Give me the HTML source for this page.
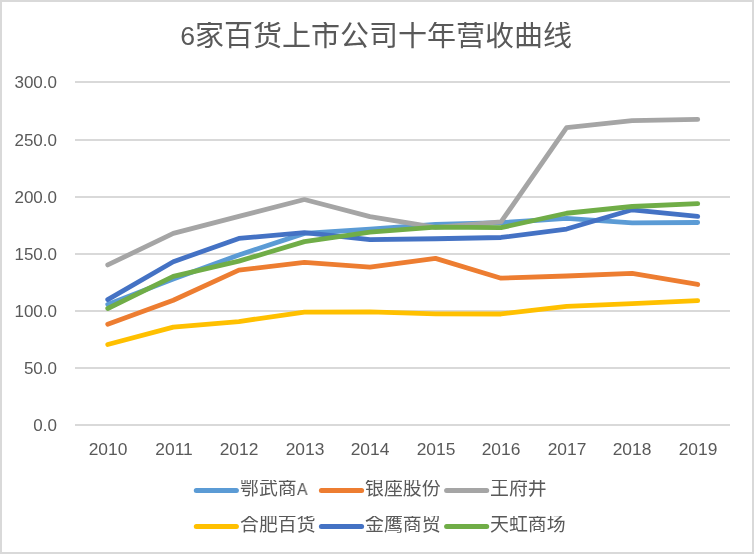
<!DOCTYPE html>
<html lang="zh"><head><meta charset="utf-8"><title>6家百货上市公司十年营收曲线</title>
<style>
html,body{margin:0;padding:0;background:#fff}
body{width:754px;height:554px;overflow:hidden;font-family:"Liberation Sans",sans-serif;color:#595959}
#chart{position:relative;width:754px;height:554px;box-sizing:border-box;border:2px solid #D9D9D9;background:#fff;overflow:hidden}
#chart svg{position:absolute;left:-2px;top:-2px;width:754px;height:554px}
.t{will-change:transform;position:absolute;white-space:nowrap;line-height:1;margin:-2px 0 0 -2px}
.yl{font-size:17px;width:60px;text-align:right;left:-3px}
.xl{font-size:17.4px;width:60px;text-align:center}
.cj{color:#595959;font-family:"Liberation Sans","Noto Sans CJK SC",sans-serif}
</style></head><body>
<div id="chart">
<svg width="754" height="554" viewBox="0 0 754 554">

<g fill="#D9D9D9">
<rect x="75" y="81" width="655" height="2"/>
<rect x="75" y="139" width="655" height="2"/>
<rect x="75" y="196" width="655" height="2"/>
<rect x="75" y="253" width="655" height="2"/>
<rect x="75" y="310" width="655" height="2"/>
<rect x="75" y="367" width="655" height="2"/>
<rect x="75" y="424" width="655" height="2"/>
</g>
<g fill="none" stroke-width="4.8" stroke-linecap="round" stroke-linejoin="round">
<polyline stroke="#5B9BD5" points="107.75,304.38 173.30,279.11 238.85,254.99 304.40,233.38 369.95,229.26 435.50,224.46 501.05,222.74 566.60,218.29 632.15,222.97 697.70,222.52"/>
<polyline stroke="#ED7D31" points="107.75,324.16 173.30,300.26 238.85,270.19 304.40,262.42 369.95,267.22 435.50,258.42 501.05,278.20 566.60,276.02 632.15,273.39 697.70,284.48"/>
<polyline stroke="#A5A5A5" points="107.75,264.93 173.30,233.38 238.85,216.34 304.40,199.53 369.95,216.57 435.50,227.32 501.05,221.94 566.60,127.73 632.15,120.53 697.70,119.39"/>
<polyline stroke="#FFC000" points="107.75,344.51 173.30,327.13 238.85,321.53 304.40,312.04 369.95,311.81 435.50,313.87 501.05,313.98 566.60,306.32 632.15,303.58 697.70,300.72"/>
<polyline stroke="#4472C4" points="107.75,299.58 173.30,261.73 238.85,238.41 304.40,232.58 369.95,239.55 435.50,238.75 501.05,237.49 566.60,229.03 632.15,209.82 697.70,216.46"/>
<polyline stroke="#70AD47" points="107.75,308.49 173.30,276.37 238.85,261.16 304.40,241.61 369.95,232.12 435.50,227.09 501.05,227.66 566.60,213.25 632.15,206.51 697.70,203.65"/>
</g>
<g fill="none" stroke-width="5.0" stroke-linecap="round">
<line stroke="#5B9BD5" x1="196.3" y1="490.5" x2="236.4" y2="490.5"/>
<line stroke="#ED7D31" x1="321.4" y1="490.5" x2="361.6" y2="490.5"/>
<line stroke="#A5A5A5" x1="446.6" y1="490.5" x2="486.7" y2="490.5"/>
<line stroke="#FFC000" x1="196.3" y1="526.5" x2="236.4" y2="526.5"/>
<line stroke="#4472C4" x1="321.4" y1="526.5" x2="361.6" y2="526.5"/>
<line stroke="#70AD47" x1="446.6" y1="526.5" x2="486.7" y2="526.5"/>
</g>
</svg>
<div class="t" style="left:180.5px;top:24px;font-size:25.4px;transform-origin:100% 0;transform:scaleX(1.05)">6</div>
<div class="t cj" style="left:195.2px;top:21.5px;font-size:29.0px;width:377.0px;overflow:hidden">家百货上市公司十年营收曲线</div>
<div class="t yl" style="top:74.1px">300.0</div>
<div class="t yl" style="top:132.1px">250.0</div>
<div class="t yl" style="top:189.1px">200.0</div>
<div class="t yl" style="top:246.1px">150.0</div>
<div class="t yl" style="top:303.1px">100.0</div>
<div class="t yl" style="top:360.1px">50.0</div>
<div class="t yl" style="top:417.1px">0.0</div>
<div class="t xl" style="left:78.0px;top:440.5px">2010</div>
<div class="t xl" style="left:143.6px;top:440.5px">2011</div>
<div class="t xl" style="left:209.2px;top:440.5px">2012</div>
<div class="t xl" style="left:274.7px;top:440.5px">2013</div>
<div class="t xl" style="left:340.2px;top:440.5px">2014</div>
<div class="t xl" style="left:405.8px;top:440.5px">2015</div>
<div class="t xl" style="left:471.3px;top:440.5px">2016</div>
<div class="t xl" style="left:536.9px;top:440.5px">2017</div>
<div class="t xl" style="left:602.4px;top:440.5px">2018</div>
<div class="t xl" style="left:668.0px;top:440.5px">2019</div>
<div class="t cj" style="left:239.9px;top:480.1px;font-size:18.9px;width:56.7px;overflow:hidden">鄂武商</div>
<div class="t" style="left:297.0px;top:481.5px;font-size:16.6px;transform-origin:0 0;transform:scaleX(.95)">A</div>
<div class="t cj" style="left:365.3px;top:480.1px;font-size:18.9px;width:75.6px;overflow:hidden">银座股份</div>
<div class="t cj" style="left:490.1px;top:480.1px;font-size:18.9px;width:56.7px;overflow:hidden">王府井</div>
<div class="t cj" style="left:239.9px;top:516.1px;font-size:18.9px;width:75.6px;overflow:hidden">合肥百货</div>
<div class="t cj" style="left:365.3px;top:516.1px;font-size:18.9px;width:75.6px;overflow:hidden">金鹰商贸</div>
<div class="t cj" style="left:490.1px;top:516.1px;font-size:18.9px;width:75.6px;overflow:hidden">天虹商场</div>
</div></body></html>
